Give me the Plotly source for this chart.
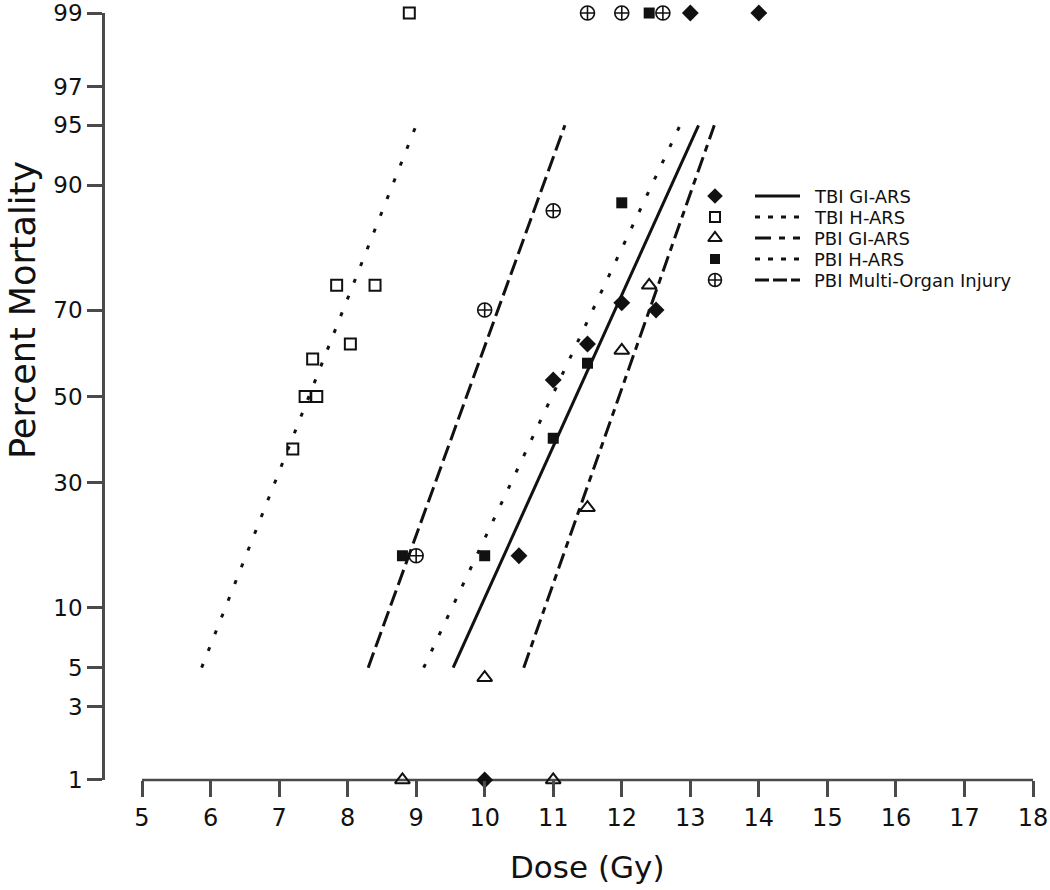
from statistics import NormalDist
import plotly.graph_objects as go

# ---------------- data ----------------
series_names = ["TBI GI-ARS", "TBI H-ARS", "PBI GI-ARS", "PBI H-ARS", "PBI Multi-Organ Injury"]

tbi_gi_dose = [10.0, 10.5, 11.0, 11.5, 12.0, 12.5, 13.0, 14.0]
tbi_gi_mort = [0, 16.7, 54, 62.5, 71.5, 70, 100, 100]

tbi_h_dose = [7.2, 7.38, 7.55, 7.49, 8.04, 7.84, 8.4, 8.9]
tbi_h_mort = [37.5, 50, 50, 59, 62.5, 75, 75, 100]

pbi_gi_dose = [8.8, 11.0, 10.0, 11.5, 12.0, 12.4]
pbi_gi_mort = [0, 0, 4.4, 25, 61, 75]

pbi_h_dose = [8.8, 10.0, 11.0, 11.5, 12.0, 12.4]
pbi_h_mort = [16.7, 16.7, 40, 58, 88, 100]

pbi_moi_dose = [9.0, 10.0, 11.0, 11.5, 12.0, 12.6]
pbi_moi_mort = [16.7, 70, 87, 100, 100, 100]

# probit fit lines: dose giving 5 % and 95 % mortality
fit_ld05 = [9.54, 5.87, 10.57, 9.11, 8.30]
fit_ld95 = [13.12, 9.00, 13.35, 12.85, 11.17]
fit_levels = [5, 95]

y_tick_pcts = [1, 3, 5, 10, 30, 50, 70, 90, 95, 97, 99]
x_tick_vals = list(range(5, 19))

# ---------------- helpers ----------------
_nd = NormalDist()


def probit(p):
    # 0 % and 100 % are shown on the 1 % / 99 % edges of the plot
    p = min(max(p, 1.0), 99.0)
    return _nd.inv_cdf(p / 100.0)


doses = [tbi_gi_dose, tbi_h_dose, pbi_gi_dose, pbi_h_dose, pbi_moi_dose]
morts = [tbi_gi_mort, tbi_h_mort, pbi_gi_mort, pbi_h_mort, pbi_moi_mort]

INK = "#111111"
AX = "#4a4a4a"
FONT = "DejaVu Sans"

styles = [
    dict(symbol="diamond", size=13, lw=0, dash="solid", ldash="solid"),
    dict(symbol="square-open", size=11, lw=2, dash="4px,14px", ldash="5px,8px"),
    dict(symbol="triangle-up-open", size=13, lw=2, dash="16px,6px,7px,6px", ldash="16px,8px,6px,8px"),
    dict(symbol="square", size=11, lw=0, dash="4px,14px", ldash="5px,8px"),
    dict(symbol="circle-cross-open", size=14, lw=1.6, dash="16px,6px", ldash="14px,4px"),
]

fig = go.Figure()

# fitted probit lines
for i, name in enumerate(series_names):
    fig.add_trace(go.Scatter(
        x=[fit_ld05[i], fit_ld95[i]],
        y=[probit(p) for p in fit_levels],
        mode="lines",
        line=dict(color=INK, width=3, dash=styles[i]["dash"]),
        name=name + " fit",
        showlegend=False,
        hoverinfo="skip",
    ))

# observed points
for i, name in enumerate(series_names):
    st = styles[i]
    fig.add_trace(go.Scatter(
        x=doses[i],
        y=[probit(p) for p in morts[i]],
        mode="markers",
        marker=dict(symbol=st["symbol"], size=st["size"], color=INK,
                    line=dict(color=INK, width=st["lw"])),
        name=name,
        showlegend=False,
        cliponaxis=False,
    ))

# ---------------- custom legend (pixel-space overlay axes) ----------------
L, R, T, B = 105, 1040, 13, 780
leg_rows = [196, 217, 238, 259, 280]
leg_marker_x = 715
leg_line_x = (755, 800)
leg_text_x = 813

for i, name in enumerate(series_names):
    st = styles[i]
    fig.add_trace(go.Scatter(
        x=[leg_marker_x], y=[leg_rows[i]],
        xaxis="x2", yaxis="y2",
        mode="markers",
        marker=dict(symbol=st["symbol"], size=st["size"] - 1, color=INK,
                    line=dict(color=INK, width=st["lw"])),
        showlegend=False, hoverinfo="skip", cliponaxis=False,
    ))
    fig.add_shape(type="line", xref="x2", yref="y2",
                  x0=leg_line_x[0], x1=leg_line_x[1], y0=leg_rows[i], y1=leg_rows[i],
                  line=dict(color=INK, width=3, dash=st["ldash"]))
    fig.add_annotation(xref="x2", yref="y2", x=leg_text_x, y=leg_rows[i],
                       text=name, showarrow=False, xanchor="left", yanchor="middle",
                       borderpad=0,
                       font=dict(family=FONT, size=18, color=INK))

# detached x-axis line from 5 to 18 (R style)
fig.add_shape(type="line", xref="x", yref="paper", x0=x_tick_vals[0], x1=x_tick_vals[-1],
              y0=0, y1=0, line=dict(color=AX, width=2.5), layer="below")

# axis titles
fig.add_annotation(xref="paper", yref="paper", x=(587 - L) / (R - L), y=(B - 867) / (B - T),
                   text="Dose (Gy)", showarrow=False, xanchor="center", yanchor="middle",
                   font=dict(family=FONT, size=31, color=INK))
fig.add_annotation(xref="paper", yref="paper", x=(23 - L) / (R - L), y=(B - 310) / (B - T),
                   text="Percent Mortality", textangle=-90, showarrow=False,
                   xanchor="center", yanchor="middle", borderpad=0,
                   font=dict(family=FONT, size=35, color=INK))

px_per_gy = (1033 - 142) / 13.0
x0 = 5 - (142 - L) / px_per_gy
x1 = 18 + (R - 1033) / px_per_gy
eps = 1e-4

fig.update_layout(
    width=1050, height=890,
    margin=dict(l=L, r=1050 - R, t=T, b=890 - B, pad=0, autoexpand=False),
    paper_bgcolor="white", plot_bgcolor="white",
    font=dict(family=FONT, size=24, color=INK),
    showlegend=False,
    xaxis=dict(range=[x0, x1], tickvals=x_tick_vals, ticktext=[str(v) for v in x_tick_vals],
               ticks="outside", ticklen=16, tickwidth=2.5, tickcolor=AX,
               showline=False, showgrid=False, zeroline=False, automargin=False,
               ticklabeloverflow="allow",
               tickfont=dict(family=FONT, size=24, color=INK)),
    yaxis=dict(range=[probit(1) - eps, probit(99) + eps],
               tickvals=[probit(p) for p in y_tick_pcts], ticktext=[str(p) for p in y_tick_pcts],
               ticks="outside", ticklen=15, tickwidth=2.5, tickcolor=AX,
               showline=True, linecolor=AX, linewidth=2.5, mirror=False,
               showgrid=False, zeroline=False, automargin=False,
               ticklabeloverflow="allow",
               tickfont=dict(family=FONT, size=23, color=INK)),
    xaxis2=dict(range=[L, R], overlaying="x", visible=False, fixedrange=True, automargin=False),
    yaxis2=dict(range=[B, T], overlaying="y", visible=False, fixedrange=True, automargin=False),
)

fig.write_html("out.html", config={"displayModeBar": False},
               post_script="document.body.style.margin='0';")
